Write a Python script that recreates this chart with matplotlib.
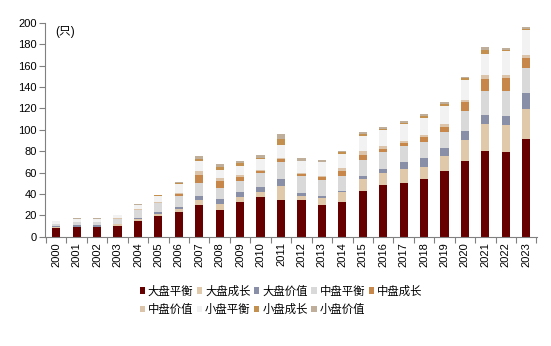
import matplotlib
matplotlib.use("Agg")
import matplotlib.pyplot as plt
import numpy as np

plt.rcParams['font.family'] = ['Liberation Sans', 'Noto Sans CJK SC', 'DejaVu Sans']

years = [str(y) for y in range(2000, 2024)]
series = ["大盘平衡", "大盘成长", "大盘价值", "中盘平衡", "中盘成长",
          "中盘价值", "小盘平衡", "小盘成长", "小盘价值"]
colors = ["#660000", "#E0C8AA", "#8A8FA8", "#D9D9D9", "#C8874A",
          "#DBC4A9", "#F2F2F2", "#C4904F", "#BFAF9A"]

da_ph = [8, 9, 9, 10, 15, 19, 23.5, 29.5, 25, 32, 37, 34.5, 34, 30, 32, 43, 48, 50.5, 54, 61, 71, 80, 79.5, 91]
da_cz = [1, 0.5, 0.5, 1.5, 1.2, 2, 2.5, 5, 6, 5, 5, 13, 4.5, 6, 9.5, 11, 12, 13, 11, 14.5, 19, 25, 25, 28]
da_jz = [1, 1, 1, 0.5, 1.5, 2, 1.5, 4, 4.5, 5, 4, 6, 2, 2, 1, 3, 3, 6.5, 8.5, 7.5, 8.5, 8.5, 8.5, 15.5]
zh_ph = [2, 3, 3, 4.5, 7, 8.5, 10.5, 11.5, 10, 10.5, 14, 16.5, 16, 15, 14.5, 15, 16, 14.5, 15, 15, 19.5, 22.5, 23.5, 23]
zh_cz = [0, 0, 0, 0, 0.3, 0.3, 2, 8, 7, 3, 1.5, 2.5, 2, 3, 4, 4.5, 3, 3, 5, 5, 7.5, 11.5, 11.5, 9.5]
zh_jz = [0.3, 0.3, 0.3, 0.5, 0.5, 0.5, 0.7, 3, 2, 2, 1.2, 1.2, 1.2, 1.2, 3, 3.5, 2.5, 2, 2, 2.5, 2.5, 4, 3.5, 3]
xi_ph = [2, 3, 3, 3, 4.5, 5.5, 8.5, 9.5, 8, 9, 9.5, 12, 11, 12.5, 13.5, 14.5, 15.5, 15.5, 15.5, 17, 19, 19.5, 22, 23]
xi_cz = [0, 0, 0, 0, 0, 1, 1, 2, 3, 2, 1, 6, 0.5, 0.3, 1.5, 1.2, 0.5, 1.2, 2, 2, 1.5, 3.5, 1.5, 1.2]
xi_jz = [0.3, 0.3, 0.3, 0.3, 0.3, 0.5, 0.6, 3, 2, 2, 3, 4.5, 2, 2, 1, 2, 2, 2, 2, 1.5, 1.2, 3, 1.5, 2.2]

data = [da_ph, da_cz, da_jz, zh_ph, zh_cz, zh_jz, xi_ph, xi_cz, xi_jz]

fig = plt.figure(figsize=(5.51, 3.46), dpi=100)
ax = fig.add_axes([0.082, 0.316, 0.893, 0.618])

x = np.arange(len(years))
bottom = np.zeros(len(years))
handles = []
for name, vals, c in zip(series, data, colors):
    vals = np.array(vals, dtype=float)
    b = ax.bar(x, vals, 0.4, bottom=bottom, color=c, label=name, linewidth=0)
    handles.append(b)
    bottom += vals

ax.set_xlim(-0.54, 23.54)
ax.set_ylim(0, 200)
ax.set_yticks(range(0, 201, 20))
ax.set_xticks(x)
ax.set_xticklabels(years, rotation=90)
ax.set_xticks(np.arange(-0.5, 24, 1), minor=True)
ax.tick_params(axis='x', which='major', length=0, labelsize=8, pad=4)
ax.tick_params(axis='x', which='minor', length=4, color='#808080', width=0.8)
ax.tick_params(axis='y', length=4, color='#808080', width=0.8, labelsize=8, pad=2)

for s in ['top', 'right']:
    ax.spines[s].set_visible(False)
for s in ['left', 'bottom']:
    ax.spines[s].set_color('#808080')
    ax.spines[s].set_linewidth(0.8)

ax.text(0.02, 0.985, "(只)", transform=ax.transAxes, fontsize=8.5, va='top', ha='left')

# legend: row-wise order with 5 columns
order = [0, 5, 1, 6, 2, 7, 3, 8, 4]
fig.legend([handles[i] for i in order], [series[i] for i in order],
           ncol=5, loc='upper center', bbox_to_anchor=(0.51, 0.205),
           frameon=False, fontsize=8.2, handlelength=0.45, handleheight=0.45,
           handletextpad=0.26, columnspacing=0.32, labelspacing=0.65)

fig.savefig("out.png", dpi=100)
